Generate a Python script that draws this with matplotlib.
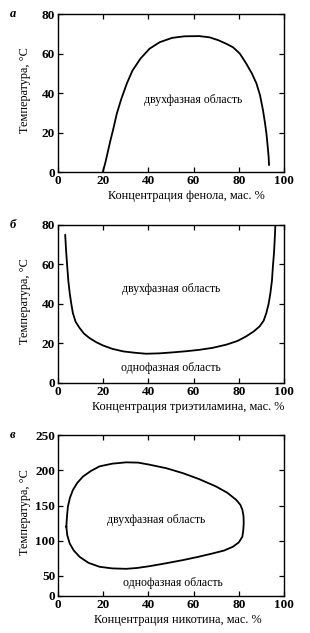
import matplotlib
matplotlib.use("Agg")
import matplotlib.pyplot as plt

# -------------------------------------------------------------------
# Data
# -------------------------------------------------------------------
# a: phenol - water
phenol_x = [19.9, 21.0, 22.0, 23.2, 24.5, 26.0, 28.0, 30.5, 33.0, 36.5, 40.5, 45.0,
            50.5, 56.0, 62.5, 67.0, 71.0, 74.5, 77.5, 80.5, 83.3, 85.8, 87.8,
            89.4, 90.7, 91.6, 92.3, 92.8, 93.2, 93.4]
phenol_y = [0.3, 5.0, 10.0, 16.0, 22.0, 29.5, 37.0, 45.0, 51.5, 57.5, 62.5, 65.8,
            68.0, 68.8, 68.9, 68.3, 66.8, 65.0, 63.2, 60.0, 55.0, 50.0, 45.0,
            39.0, 31.5, 25.0, 19.0, 13.0, 8.0, 3.7]

# б: triethylamine - water
tea_x = [3.2, 3.6, 4.1, 4.6, 5.2, 5.9, 6.6, 7.8, 9.6, 11.5, 14.0, 17.0, 19.9,
         24.0, 28.8, 34.0, 39.0, 45.0, 50.9, 57.0, 62.7, 68.5, 74.5, 79.5,
         83.3, 86.5, 89.2, 91.0, 92.2, 93.2, 94.0, 94.7, 95.1, 95.6, 95.9, 96.2]
tea_y = [74.9, 67.0, 58.9, 51.5, 45.5, 40.0, 35.4, 31.0, 27.8, 25.0, 22.7, 20.6, 19.0,
         17.3, 16.0, 15.3, 14.8, 15.0, 15.5, 16.1, 16.8, 17.8, 19.4, 21.3,
         23.6, 26.0, 28.6, 31.5, 35.4, 40.0, 45.5, 52.0, 58.9, 66.0, 72.4, 80.0]

# в: nicotine - water (closed loop)
nic_x = [3.7, 4.0, 4.4, 5.3, 6.6, 8.5, 11.0, 14.5, 18.4, 24.0, 30.2, 35.5, 40.6,
         48.0, 55.3, 62.5, 70.0, 75.0, 78.9, 80.7, 81.6, 82.1, 82.2, 82.0, 81.6,
         80.0, 77.4, 73.5, 68.6, 62.0, 55.3, 48.0, 40.6, 35.0, 30.2, 24.0, 18.4,
         13.5, 9.6, 7.0, 5.2, 4.1, 3.7]
nic_y = [120.0, 135.0, 148.6, 161.0, 172.0, 182.0, 191.0, 199.0, 205.7, 209.5, 211.4, 211.0, 208.0,
         203.0, 196.0, 187.5, 177.0, 168.0, 158.0, 151.0, 144.0, 135.0, 125.0, 115.0, 105.7,
         97.5, 91.4, 86.0, 82.0, 77.0, 72.4, 68.0, 63.8, 61.2, 60.0, 60.6, 62.9,
         68.5, 77.0, 86.0, 96.0, 108.0, 120.0]

x_ticks = [0, 20, 40, 60, 80, 100]
ab_yticks = [0, 20, 40, 60, 80]
c_ytick_labels = ["0", "50", "100", "150", "200", "250"]
c_ybottom = 21.4          # the printed "0" sits at a compressed axis bottom
c_yticks = [c_ybottom, 50, 100, 150, 200, 250]

# -------------------------------------------------------------------
# Plot
# -------------------------------------------------------------------
plt.rcParams["font.family"] = ["Liberation Serif", "DejaVu Serif"]

fig = plt.figure(figsize=(3.10, 6.33), dpi=100)
ax_a = fig.add_axes([0.187, 0.728, 0.729, 0.2496])
ax_b = fig.add_axes([0.187, 0.395, 0.729, 0.2496])
ax_c = fig.add_axes([0.187, 0.0585, 0.729, 0.254])

TICK_FS = 9.5
LAB_FS = 8.8
TXT_FS = 8.5


def style(ax, yticks, ylabels, ylim, xlabel, xlab_pos, letter):
    ax.set_xlim(0, 100)
    ax.set_ylim(*ylim)
    ax.set_xticks(x_ticks)
    ax.set_xticklabels([str(t) for t in x_ticks], fontweight="bold", fontsize=TICK_FS)
    ax.set_yticks(yticks)
    ax.set_yticklabels(ylabels, fontweight="bold", fontsize=TICK_FS)
    ax.tick_params(direction="in", top=True, right=True, length=3.5, width=0.9, pad=2)
    for s in ax.spines.values():
        s.set_linewidth(1.0)
    ax.set_xlabel(xlabel, fontsize=LAB_FS)
    ax.xaxis.set_label_coords(xlab_pos, -0.115)
    ax.set_ylabel("Температура, °C", fontsize=LAB_FS)
    ax.yaxis.set_label_coords(-0.12, 0.52)
    ax.text(-0.2, 1.0, letter, transform=ax.transAxes, fontsize=9,
            fontstyle="italic", fontweight="bold", ha="center", va="center")


ax_a.plot(phenol_x, phenol_y, color="black", linewidth=1.3)
ax_a.text(59.7, 36.5, "двухфазная область", fontsize=TXT_FS, ha="center", va="center")
style(ax_a, ab_yticks, [str(t) for t in ab_yticks], (0, 80),
      "Концентрация фенола, мас. %", 0.566, "а")

ax_b.plot(tea_x, tea_y, color="black", linewidth=1.3)
ax_b.text(50, 47.5, "двухфазная область", fontsize=TXT_FS, ha="center", va="center")
ax_b.text(50, 7.6, "однофазная область", fontsize=TXT_FS, ha="center", va="center")
style(ax_b, ab_yticks, [str(t) for t in ab_yticks], (0, 80),
      "Концентрация триэтиламина, мас. %", 0.575, "б")

ax_c.plot(nic_x, nic_y, color="black", linewidth=1.3)
ax_c.text(43.5, 129.5, "двухфазная область", fontsize=TXT_FS, ha="center", va="center")
ax_c.text(50.9, 40.5, "однофазная область", fontsize=TXT_FS, ha="center", va="center")
style(ax_c, c_yticks, c_ytick_labels, (c_ybottom, 250),
      "Концентрация никотина, мас. %", 0.53, "в")

plt.savefig("out.png", dpi=100)
plt.close()
